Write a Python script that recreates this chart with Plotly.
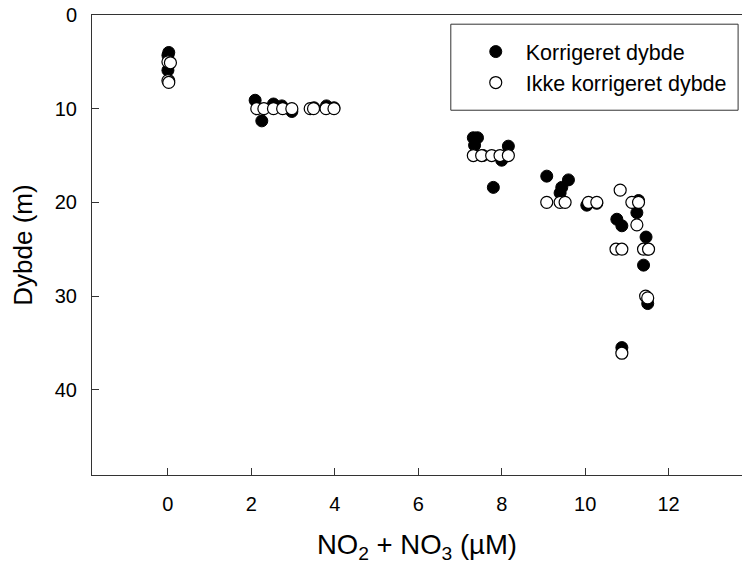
import plotly.graph_objects as go

# Korrigeret dybde (filled)
corr_x = [0.02, 0.0, 0.0, 0.02,
          2.09, 2.25, 2.53, 2.73, 2.97, 3.5, 3.8, 3.98,
          7.32, 7.42, 7.35, 7.55, 7.8, 8.0, 8.16,
          9.08, 9.6, 9.44, 9.4, 10.04, 10.28, 10.76, 10.88, 11.28, 11.24, 11.46, 11.4, 11.5, 10.88, 11.5]
corr_y = [4.0, 4.3, 5.9, 7.0,
          9.1, 11.3, 9.5, 9.7, 10.3, 9.9, 9.7, 9.9,
          13.1, 13.1, 13.9, 15.0, 18.4, 15.5, 14.0,
          17.2, 17.6, 18.4, 19.0, 20.3, 20.1, 21.8, 22.5, 19.8, 21.1, 23.7, 26.7, 30.8, 35.5, 25.0]

# Ikke korrigeret dybde (open)
unc_x = [0.0, 0.06, 0.0, 0.02,
         2.13, 2.30, 2.53, 2.75, 2.97, 3.41, 3.49, 3.79, 3.98,
         7.32, 7.52, 7.76, 7.96, 8.16,
         9.08, 9.4, 9.52, 10.08, 10.28, 10.84, 11.12, 11.28, 11.24,
         10.74, 10.88, 11.4, 11.52, 11.45, 11.5, 10.88]
unc_y = [5.0, 5.1, 7.0, 7.2,
         10.0, 10.0, 10.0, 10.0, 10.0, 10.0, 10.0, 10.0, 10.0,
         15.0, 15.0, 15.0, 15.0, 15.0,
         20.0, 20.0, 20.0, 20.0, 20.0, 18.7, 20.0, 20.0, 22.4,
         25.0, 25.0, 25.0, 25.0, 30.0, 30.2, 36.1]

x_ticks = [0, 2, 4, 6, 8, 10, 12]
y_ticks = [0, 10, 20, 30, 40]

FONT = "Liberation Sans, Arial, sans-serif"

fig = go.Figure()
fig.add_trace(go.Scatter(
    x=corr_x, y=corr_y, mode="markers", name="Korrigeret dybde",
    marker=dict(symbol="circle", size=12, color="black",
                line=dict(color="black", width=1))))
fig.add_trace(go.Scatter(
    x=unc_x, y=unc_y, mode="markers", name="Ikke korrigeret dybde",
    marker=dict(symbol="circle", size=12, color="white",
                line=dict(color="black", width=1.2))))

fig.update_layout(
    width=742, height=566,
    margin=dict(l=92, r=0, t=15, b=91),
    plot_bgcolor="white", paper_bgcolor="white",
    font=dict(family=FONT, color="black"),
    showlegend=True,
    legend=dict(x=0.575, y=0.965, xanchor="left", yanchor="top",
                bgcolor="rgba(0,0,0,0)", borderwidth=0,
                font=dict(size=21.5, family=FONT, color="black"),
                itemwidth=50, tracegroupgap=0),
    shapes=[dict(type="rect", xref="paper", yref="paper",
                 x0=0.552, x1=0.994, y0=0.793, y1=0.98,
                 line=dict(color="#333333", width=1), fillcolor="rgba(0,0,0,0)")],
)

fig.update_xaxes(
    range=[-1.82, 13.76], tickvals=x_ticks, ticktext=[str(v) for v in x_ticks],
    ticks="inside", ticklen=7, tickcolor="#333333", tickwidth=1,
    showline=True, linecolor="#333333", linewidth=1, mirror=True,
    showgrid=False, zeroline=False,
    tickfont=dict(size=20, family=FONT, color="black"),
    ticklabelstandoff=11,
    title=dict(text="NO<sub>2</sub> + NO<sub>3</sub> (µM)",
               font=dict(size=27.5, family=FONT, color="black"), standoff=20),
)
fig.update_yaxes(
    range=[49.1, 0], tickvals=y_ticks, ticktext=[str(v) for v in y_ticks],
    ticks="inside", ticklen=7, tickcolor="#333333", tickwidth=1,
    showline=True, linecolor="#333333", linewidth=1, mirror=False,
    showgrid=False, zeroline=False,
    tickfont=dict(size=20, family=FONT, color="black"),
    ticklabelstandoff=10,
    title=dict(text="Dybde (m)", font=dict(size=26, family=FONT, color="black"), standoff=14),
)

fig.write_html("out.html")
